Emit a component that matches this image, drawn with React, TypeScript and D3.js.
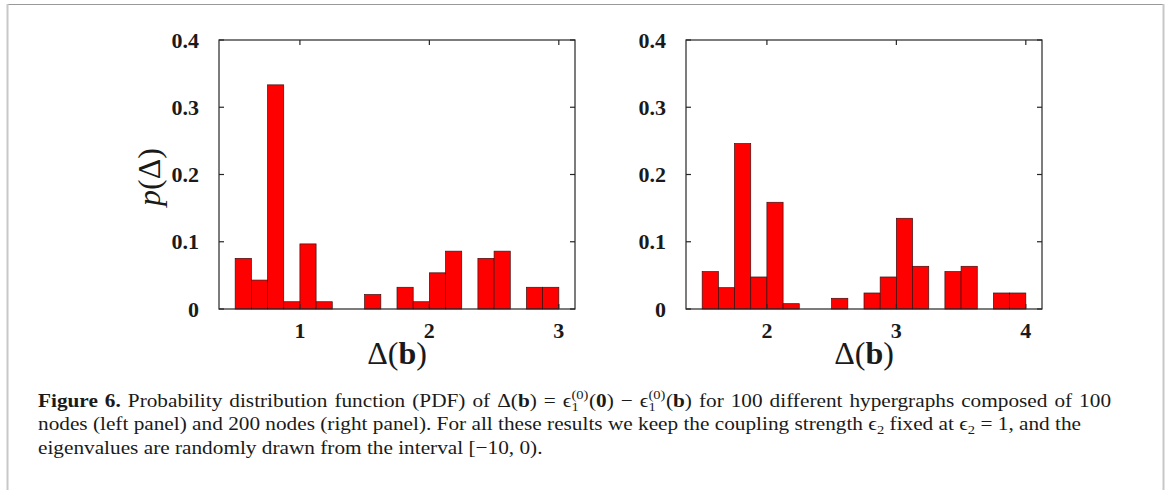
import React, { useEffect, useRef, useState } from "react";
import * as d3 from "d3";

// ---- data ----
const leftBinEdges = [0.5, 0.625, 0.75, 0.875, 1.0, 1.125, 1.25, 1.375, 1.5, 1.625, 1.75, 1.875, 2.0, 2.125, 2.25, 2.375, 2.5, 2.625, 2.75, 2.875, 3.0];
const leftValues = [0.0753, 0.043, 0.3333, 0.0108, 0.0968, 0.0108, 0, 0, 0.0215, 0, 0.0323, 0.0108, 0.0538, 0.086, 0, 0.0753, 0.086, 0, 0.0323, 0.0323];
const rightBinEdges = [1.5, 1.625, 1.75, 1.875, 2.0, 2.125, 2.25, 2.375, 2.5, 2.625, 2.75, 2.875, 3.0, 3.125, 3.25, 3.375, 3.5, 3.625, 3.75, 3.875, 4.0];
const rightValues = [0.0556, 0.0317, 0.246, 0.0476, 0.1587, 0.0079, 0, 0, 0.0159, 0, 0.0238, 0.0476, 0.1349, 0.0635, 0, 0.0556, 0.0635, 0, 0.0238, 0.0238];
const leftXDomain = [0.375, 3.125];
const rightXDomain = [1.375, 4.125];
const yDomain = [0, 0.4];
const leftXTicks = [1, 2, 3];
const rightXTicks = [2, 3, 4];
const yTicks = [0, 0.1, 0.2, 0.3, 0.4];
const yTickLabels = ["0", "0.1", "0.2", "0.3", "0.4"];

const AX = "#262626";
const SERIF = "'Liberation Serif', 'Times New Roman', serif";

type PanelProps = {
  x0: number;
  x1: number;
  edges: number[];
  values: number[];
  xDomain: number[];
  xTicks: number[];
  showYLabel: boolean;
};

const TOP = 40;
const BOTTOM = 309;

function Panel({ x0, x1, edges, values, xDomain, xTicks, showYLabel }: PanelProps) {
  const x = d3.scaleLinear().domain(xDomain).range([x0, x1]);
  const y = d3.scaleLinear().domain(yDomain).range([BOTTOM, TOP]);
  const tl = 5;
  return (
    <g>
      {values.map((v, i) =>
        v > 0 ? (
          <rect
            key={i}
            x={x(edges[i])}
            y={y(v)}
            width={x(edges[i + 1]) - x(edges[i])}
            height={y(0) - y(v)}
            fill="#ff0000"
            stroke="#3a1010"
            strokeWidth={0.7}
          />
        ) : null
      )}
      <rect x={x0} y={TOP} width={x1 - x0} height={BOTTOM - TOP} fill="none" stroke={AX} strokeWidth={1.2} />
      {xTicks.map((t) => (
        <g key={"xt" + t}>
          <line x1={x(t)} x2={x(t)} y1={BOTTOM} y2={BOTTOM - tl} stroke={AX} strokeWidth={1.2} />
          <line x1={x(t)} x2={x(t)} y1={TOP} y2={TOP + tl} stroke={AX} strokeWidth={1.2} />
          <text x={x(t)} y={338} textAnchor="middle" fontFamily={SERIF} fontWeight="bold" fontSize={22} fill="#1a1a1a">
            {t}
          </text>
        </g>
      ))}
      {yTicks.map((t, i) => (
        <g key={"yt" + t}>
          <line x1={x0} x2={x0 + tl} y1={y(t)} y2={y(t)} stroke={AX} strokeWidth={1.2} />
          <line x1={x1} x2={x1 - tl} y1={y(t)} y2={y(t)} stroke={AX} strokeWidth={1.2} />
          <text x={x0 - 20} y={y(t) + 7.5} textAnchor="end" fontFamily={SERIF} fontWeight="bold" fontSize={22} fill="#1a1a1a">
            {yTickLabels[i]}
          </text>
        </g>
      ))}
      <text x={(x0 + x1) / 2} y={364} textAnchor="middle" fontFamily={SERIF} fontSize={32} fill="#1a1a1a">
        Δ(<tspan fontWeight="bold">b</tspan>)
      </text>
      {showYLabel && (
        <text
          transform={`translate(160,177) rotate(-90)`}
          textAnchor="middle"
          fontFamily={SERIF}
          fontSize={32}
          fill="#1a1a1a"
        >
          <tspan fontStyle="italic">p</tspan>(Δ)
        </text>
      )}
    </g>
  );
}

const CAP_X = 38;
const LINE1_END = 1112;
const LINE2_END = 1082;
const LINE1_SPACES = 18;

export default function App() {
  const cap = 19;
  const sc = 13;
  const r1 = useRef<SVGTextElement>(null);
  const r2 = useRef<SVGTextElement>(null);
  const [s, setS] = useState(1);
  const [ws, setWs] = useState(0);
  useEffect(() => {
    const w1 = r1.current ? r1.current.getBBox().width : 0;
    const w2 = r2.current ? r2.current.getBBox().width : 0;
    if (w1 > 0 && w2 > 0) {
      const k = (LINE2_END - CAP_X) / w2;
      const d = (LINE1_END - CAP_X) / k - w1;
      setS(k);
      setWs(Math.max(0, d / LINE1_SPACES));
    }
  }, []);
  return (
    <svg
      width={1167}
      height={490}
      style={{ position: "absolute", left: 0, top: 0, background: "#fff" }}
    >
      <rect x={0} y={0} width={1167} height={490} fill="#fff" />
      <line x1={7} x2={1164} y1={4.5} y2={4.5} stroke="#999" strokeWidth={1} />
      <line x1={7.5} x2={7.5} y1={4} y2={490} stroke="#c8c8c8" strokeWidth={2} />
      <line x1={1163.5} x2={1163.5} y1={4} y2={490} stroke="#c8c8c8" strokeWidth={2} />

      <Panel x0={219} x1={575} edges={leftBinEdges} values={leftValues} xDomain={leftXDomain} xTicks={leftXTicks} showYLabel={true} />
      <Panel x0={686} x1={1042} edges={rightBinEdges} values={rightValues} xDomain={rightXDomain} xTicks={rightXTicks} showYLabel={false} />

      <g fontFamily={SERIF} fontSize={cap} fill="#1a1a1a" transform={`translate(${CAP_X},0) scale(${s},1)`}>
        <text ref={r1} x={0} y={407} style={{ wordSpacing: `${ws}px` }}>
          <tspan fontWeight="bold">Figure 6.</tspan>
          <tspan> Probability distribution function (PDF) of Δ(</tspan>
          <tspan fontWeight="bold">b</tspan>
          <tspan>) = ϵ</tspan>
          <tspan fontSize={sc} dy={-8}>(0)</tspan>
          <tspan fontSize={sc} dx={-15} dy={12}>1</tspan>
          <tspan dx={9} dy={-4}>(</tspan>
          <tspan fontWeight="bold">0</tspan>
          <tspan>) − ϵ</tspan>
          <tspan fontSize={sc} dy={-8}>(0)</tspan>
          <tspan fontSize={sc} dx={-15} dy={12}>1</tspan>
          <tspan dx={9} dy={-4}>(</tspan>
          <tspan fontWeight="bold">b</tspan>
          <tspan>) for 100 different hypergraphs composed of 100</tspan>
        </text>
        <text ref={r2} x={0} y={430.5}>
          <tspan>nodes (left panel) and 200 nodes (right panel). For all these results we keep the coupling strength ϵ</tspan>
          <tspan fontSize={sc} dy={4}>2</tspan>
          <tspan dy={-4}> fixed at ϵ</tspan>
          <tspan fontSize={sc} dy={4}>2</tspan>
          <tspan dy={-4}> = 1, and the</tspan>
        </text>
        <text x={0} y={454}>
          eigenvalues are randomly drawn from the interval [−10, 0).
        </text>
      </g>
    </svg>
  );
}
